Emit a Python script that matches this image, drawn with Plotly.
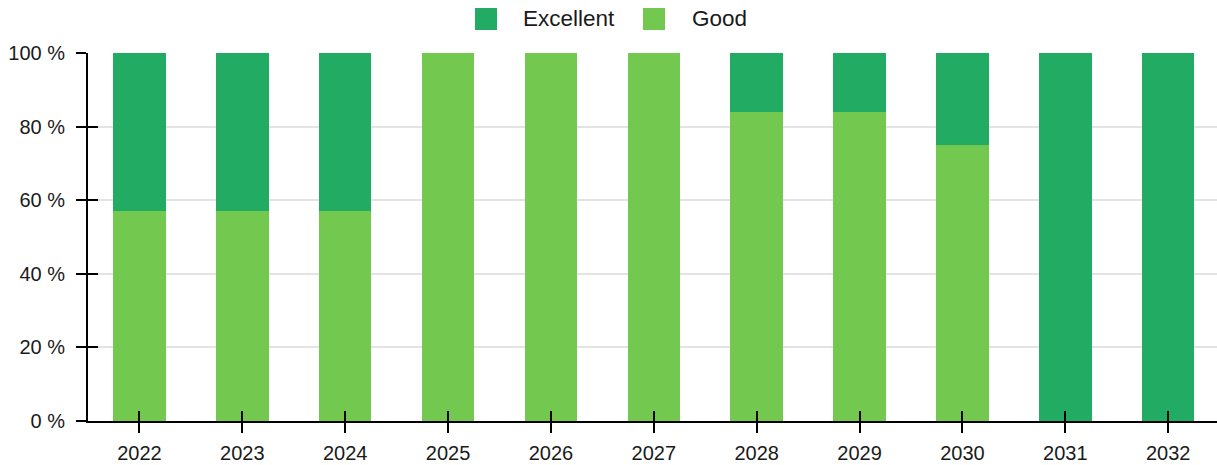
import plotly.graph_objects as go

# Share of ratings per year (percent of total)
years = ["2022", "2023", "2024", "2025", "2026", "2027",
         "2028", "2029", "2030", "2031", "2032"]
good = [57, 57, 57, 100, 100, 100, 84, 84, 75, 0, 0]
excellent = [43, 43, 43, 0, 0, 0, 16, 16, 25, 100, 100]

series_names = ["Excellent", "Good"]
y_ticks = [0, 20, 40, 60, 80, 100]
y_tick_labels = [f"{v} %" for v in y_ticks]

COL_EXCELLENT = "#22ab63"
COL_GOOD = "#73c84f"
FONT = "Liberation Sans, Arial, sans-serif"
TEXT_COL = "#1a1a1a"

W, H = 1217, 465
ML, MR, MT, MB = 88, 0, 53, 44
PW, PH = W - ML - MR, H - MT - MB

fig = go.Figure()
fig.add_trace(go.Bar(x=years, y=good, name=series_names[1],
                     marker=dict(color=COL_GOOD, line=dict(width=0)),
                     showlegend=False))
fig.add_trace(go.Bar(x=years, y=excellent, name=series_names[0],
                     marker=dict(color=COL_EXCELLENT, line=dict(width=0)),
                     showlegend=False))
# empty trace that carries the inner half of the tick marks
fig.add_trace(go.Scatter(x=years, y=[None] * len(years), xaxis="x2", yaxis="y2",
                         mode="markers", showlegend=False, hoverinfo="skip"))

x_range = [-0.5, 10.474]

fig.update_layout(
    width=W, height=H,
    margin=dict(l=ML, r=MR, t=MT, b=MB),
    barmode="stack", bargap=0.49,
    paper_bgcolor="white", plot_bgcolor="white",
    font=dict(family=FONT, size=20, color=TEXT_COL),
    xaxis=dict(type="category", categoryarray=years, range=x_range,
               showline=True, linecolor="black", linewidth=2,
               ticks="outside", ticklen=10, tickwidth=2, tickcolor="black",
               tickfont=dict(family=FONT, size=20, color=TEXT_COL),
               showgrid=False, zeroline=False, ticklabelstandoff=3),
    yaxis=dict(range=[0, 100], tickmode="array", tickvals=y_ticks,
               ticktext=y_tick_labels,
               showline=True, linecolor="black", linewidth=2,
               ticks="outside", ticklen=10, tickwidth=2, tickcolor="black",
               tickfont=dict(family=FONT, size=20, color=TEXT_COL),
               showgrid=True, gridcolor="#e3e3e3",
               gridwidth=2, zeroline=False, ticklabelstandoff=7),
    xaxis2=dict(type="category", categoryarray=years, range=x_range,
                overlaying="x", anchor="y2", side="bottom",
                ticks="inside", ticklen=10, tickwidth=2, tickcolor="black",
                showticklabels=False, showgrid=False, showline=False,
                zeroline=False),
    yaxis2=dict(range=[0, 100], tickmode="array", tickvals=y_ticks,
                overlaying="y", anchor="x2", side="left",
                ticks="inside", ticklen=10, tickwidth=2, tickcolor="black",
                showticklabels=False, showgrid=False, showline=False,
                zeroline=False),
)


def px_x(p):
    return (p - ML) / PW


def px_y(p):
    return (H - MB - p) / PH


# Legend with large square swatches above the plot
legend_items = [(series_names[0], COL_EXCELLENT, 475, 521),
                (series_names[1], COL_GOOD, 643, 690)]
for label, color, sx, tx in legend_items:
    fig.add_shape(type="rect", xref="paper", yref="paper",
                  x0=px_x(sx), x1=px_x(sx + 22), y0=px_y(30), y1=px_y(8),
                  fillcolor=color, line=dict(width=0))
    fig.add_annotation(text=label, xref="paper", yref="paper",
                       x=px_x(tx), y=px_y(19), xanchor="left", yanchor="middle",
                       showarrow=False,
                       font=dict(family=FONT, size=22.5, color=TEXT_COL))

fig.write_html("out.html")
